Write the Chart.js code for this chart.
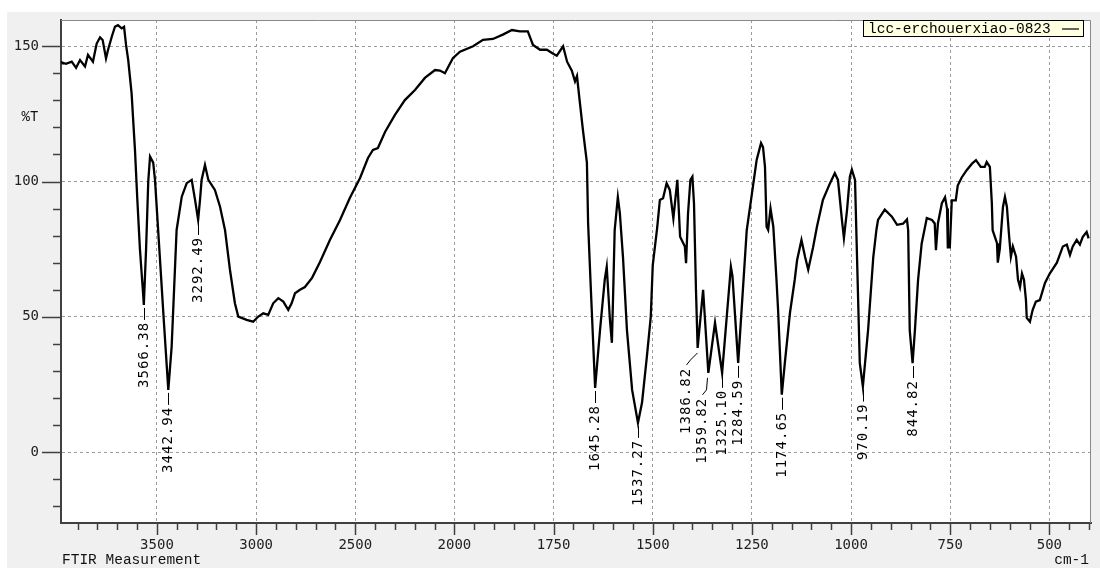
<!DOCTYPE html>
<html lang="en">
<head>
<meta charset="UTF-8">
<title>FTIR Measurement</title>
<script src="https://cdn.jsdelivr.net/npm/chart.js"></script>
<style>
    html, body { margin: 0; padding: 0; background: #fff; }
    canvas { display: block; }
</style>
</head>
<body>
<canvas id="ftirChart" width="1100" height="568"></canvas>
<script>
// Spectrum: wavenumber (cm-1) and %T
const waveNumbers = [
    3984, 3979, 3959, 3930, 3908, 3888, 3863, 3848, 3823, 3804, 3787, 3774, 3757, 3747, 3728, 3712,
    3697, 3678, 3666, 3656, 3645, 3628, 3611, 3599, 3586, 3569, 3566.38, 3555, 3544, 3535, 3519, 3510,
    3485, 3465, 3442.94, 3426, 3401, 3375, 3350, 3325, 3308, 3292.49, 3283, 3275, 3258, 3241, 3208, 3182,
    3157, 3132, 3107, 3090, 3048, 3015, 2989, 2964, 2939, 2914, 2888, 2863, 2838, 2821, 2804, 2779,
    2754, 2718, 2678, 2628, 2577, 2527, 2476, 2436, 2411, 2386, 2350, 2300, 2250, 2199, 2149, 2098,
    2073, 2048, 2008,
    1986, 1953, 1928, 1903, 1878, 1855, 1835, 1815, 1802, 1784, 1767, 1752, 1742, 1726, 1716, 1704,
    1696, 1691, 1684, 1676, 1666, 1663, 1656, 1645.28, 1633, 1621, 1616, 1608, 1603, 1600, 1596, 1588,
    1583, 1575, 1565, 1552, 1537.27, 1527, 1515, 1505, 1500, 1489, 1482, 1474, 1465, 1457, 1448, 1438,
    1431, 1419, 1416, 1411, 1405, 1400, 1396, 1391, 1386.82, 1373, 1359.82, 1343, 1325.10, 1303, 1299, 1284.59,
    1263, 1251, 1238, 1227, 1222, 1217, 1213, 1209, 1203, 1196, 1188, 1184, 1174.65, 1167, 1154, 1142,
    1136, 1125, 1116, 1108, 1096, 1086, 1071, 1053, 1041, 1033, 1023, 1018, 1010, 1003, 998, 990,
    986, 978, 970.19, 957, 944, 936, 932, 915, 897, 884, 869, 859, 856, 852, 844.82, 839,
    831, 822, 809, 796, 789, 786, 781, 771, 763, 758, 756, 751, 746, 736, 731, 721,
    708, 695, 685, 673, 663, 658, 650, 645, 643, 632, 630, 625, 617, 612, 607, 602,
    597, 592, 584, 579, 574, 569, 564, 559, 557, 549, 542, 534, 524, 511, 499, 481,
    466, 456, 448, 441, 431, 423, 416, 406, 401
];
const transmittance = [
    144.3, 144.0, 143.5, 144.3, 142.0, 144.9, 142.5, 146.8, 144.3, 151.0, 153.3, 152.3, 145.5, 148.6, 153.5, 157.2,
    157.8, 156.6, 157.2, 150.5, 144.9, 132.6, 111.7, 93.2, 75.0, 57.5, 54.4, 75.0, 100.0, 109.2, 107.0, 100.6,
    71.4, 48.0, 23.0, 39.0, 82.1, 94.4, 99.4, 100.6, 93.2, 85.8, 93.2, 100.6, 106.1, 100.6, 96.9, 90.7,
    82.1, 67.4, 55.0, 50.1, 48.9, 48.2, 50.1, 51.3, 50.7, 55.0, 56.9, 55.6, 52.6, 55.0, 58.7, 60.0,
    61.0, 64.4, 70.3, 78.4, 85.8, 94.0, 101.3, 108.7, 111.7, 112.4, 118.3, 124.6, 130.1, 133.8, 138.3, 141.2,
    141.0, 140.0, 145.6,
    148.0, 150.0, 152.4, 152.7, 154.3, 156.0, 155.5, 155.5, 150.5, 148.7, 148.7, 147.3, 146.5, 150.0, 144.3, 141.0,
    137.0, 139.0, 129.5, 119.0, 107.0, 84.7, 60.0, 23.7, 45.0, 63.7, 68.5, 49.0, 40.4, 57.4, 82.0, 94.2,
    88.4, 72.0, 45.0, 23.0, 10.8, 18.3, 35.0, 50.0, 69.0, 82.7, 93.2, 93.8, 99.4, 96.9, 86.4, 100.6,
    79.6, 76.0, 69.8, 88.3, 100.6, 101.8, 92.0, 60.0, 38.5, 60.0, 29.3, 47.8, 29.3, 68.5, 65.0, 33.0,
    82.0, 94.4, 108.0, 114.2, 112.7, 105.4, 83.3, 82.1, 90.0, 83.3, 63.7, 52.6, 21.2, 32.9, 51.5, 63.7,
    71.0, 78.4, 72.2, 67.4, 75.5, 83.3, 93.2, 99.4, 103.1, 100.6, 85.8, 79.1, 89.6, 101.8, 104.4, 100.6,
    78.0, 33.0, 24.2, 45.2, 72.0, 82.2, 85.8, 89.6, 87.0, 84.0, 84.4, 86.0, 82.0, 45.0, 32.9, 45.0,
    63.7, 77.0, 86.5, 85.8, 84.5, 74.6, 84.5, 92.0, 94.2, 90.0, 75.7, 75.7, 93.0, 93.0, 98.5, 101.5,
    104.3, 106.6, 107.9, 105.4, 105.4, 107.2, 105.4, 92.0, 82.0, 77.2, 70.0, 75.0, 90.6, 94.3, 90.6, 80.8,
    72.2, 76.0, 72.2, 63.7, 61.0, 66.0, 63.7, 56.2, 49.6, 48.2, 52.6, 55.6, 56.2, 62.5, 66.0, 70.0,
    76.0, 76.7, 72.9, 76.0, 78.4, 76.7, 79.5, 81.4, 79.0
];

// Labelled peaks
const peakWaves = [3566.38, 3442.94, 3292.49, 1645.28, 1537.27, 1386.82, 1359.82, 1325.10, 1284.59, 1174.65, 970.19, 844.82];
const peakLabels = ['3566.38', '3442.94', '3292.49', '1645.28', '1537.27', '1386.82', '1359.82', '1325.10', '1284.59', '1174.65', '970.19', '844.82'];

// Axis labels
const xTickWaves = [3500, 3000, 2500, 2000, 1750, 1500, 1250, 1000, 750, 500];
const yTickValues = [150, 100, 50, 0];
const seriesName = 'lcc-erchouerxiao-0823';

// labels that sit off to the side with a bent leader
const peakLabelOffsets = {
    '1386.82': { dx: -12, dy: 20 },
    '1359.82': { dx: -6, dy: 25 }
};

// the axis is compressed 2x above 2000 cm-1
function toAxis(w) { return w > 2000 ? 2000 + (w - 2000) / 2 : w; }
function fromAxis(u) { return u > 2000 ? 2 * u - 2000 : u; }

const spectrum = waveNumbers.map((w, i) => ({ x: toAxis(w), y: transmittance[i] }));

const numFont = { family: 'DejaVu Sans Mono', size: 14 };

const decor = {
    id: 'ftirDecor',
    beforeDraw(chart) {
        const { ctx, chartArea: a } = chart;
        ctx.save();
        ctx.fillStyle = '#ffffff';
        ctx.fillRect(0, 0, chart.width, chart.height);
        ctx.fillStyle = '#f0f0f0';
        ctx.fillRect(7, 12, chart.width - 7, chart.height - 12);
        ctx.fillStyle = '#ffffff';
        ctx.fillRect(a.left, a.top, a.right - a.left, a.bottom - a.top);
        ctx.restore();
    },
    afterDraw(chart) {
        const { ctx, chartArea: a, scales: { x, y } } = chart;
        ctx.save();

        // frame top / right
        ctx.strokeStyle = '#888';
        ctx.lineWidth = 1;
        ctx.beginPath();
        ctx.moveTo(a.left, a.top + 0.5);
        ctx.lineTo(a.right - 0.5, a.top + 0.5);
        ctx.lineTo(a.right - 0.5, a.bottom);
        ctx.stroke();

        // tick marks
        ctx.strokeStyle = '#404040';
        ctx.lineWidth = 1.5;
        ctx.beginPath();
        y.ticks.forEach(t => {
            const py = Math.round(y.getPixelForValue(t.value)) + 0.5;
            const len = t.value % 50 === 0 ? 19 : 8;
            ctx.moveTo(a.left - len, py);
            ctx.lineTo(a.left, py);
        });
        x.ticks.forEach(t => {
            const px = Math.round(x.getPixelForValue(t.value)) + 0.5;
            const len = t.value % 250 === 0 ? 12 : 7;
            ctx.moveTo(px, a.bottom);
            ctx.lineTo(px, a.bottom + len);
        });
        ctx.stroke();

        // axis captions
        ctx.fillStyle = '#111';
        ctx.textBaseline = 'middle';
        ctx.font = '14px "Liberation Mono"';
        ctx.textAlign = 'center';
        ctx.fillText('%T', 30, 117);
        ctx.font = '14.5px "Liberation Mono"';
        ctx.textAlign = 'left';
        ctx.fillText('FTIR Measurement', 62, 560);
        ctx.textAlign = 'right';
        ctx.fillText('cm-1', 1089, 560);

        // legend box
        ctx.fillStyle = '#ffffe1';
        ctx.fillRect(863.5, 20.5, 220, 16);
        ctx.strokeStyle = '#000';
        ctx.lineWidth = 1;
        ctx.strokeRect(863.5, 20.5, 220, 16);
        ctx.fillStyle = '#000';
        ctx.textAlign = 'left';
        ctx.fillText(seriesName, 868, 29);
        ctx.lineWidth = 1.2;
        ctx.beginPath();
        ctx.moveTo(1062, 29);
        ctx.lineTo(1079, 29);
        ctx.stroke();

        // peak labels
        ctx.font = '14px "DejaVu Sans Mono"';
        ctx.letterSpacing = '1px';
        ctx.lineWidth = 1;
        ctx.strokeStyle = '#000';
        peakWaves.forEach((w, i) => {
            const idx = waveNumbers.indexOf(w);
            const px = Math.round(x.getPixelForValue(toAxis(w))) + 0.5;
            const py = y.getPixelForValue(transmittance[idx]);
            const off = peakLabelOffsets[peakLabels[i]];
            let tx = px, ty = py + 17;
            ctx.beginPath();
            if (off) {
                tx = px + off.dx;
                ty = py + off.dy;
                ctx.moveTo(px - 1, py + 5);
                ctx.lineTo(tx + 4, ty - 8);
                ctx.lineTo(tx, ty - 3);
            } else {
                ctx.moveTo(px, py + 3);
                ctx.lineTo(px, py + 15);
            }
            ctx.stroke();
            ctx.save();
            ctx.translate(tx, ty);
            ctx.rotate(-Math.PI / 2);
            ctx.textAlign = 'right';
            ctx.textBaseline = 'middle';
            ctx.fillText(peakLabels[i], 0, 0);
            ctx.restore();
        });
        ctx.restore();
    }
};

new Chart(document.getElementById('ftirChart'), {
    type: 'line',
    data: {
        datasets: [{
            label: seriesName,
            data: spectrum,
            borderColor: '#000',
            borderWidth: 2.3,
            pointRadius: 0,
            tension: 0,
            fill: false
        }]
    },
    options: {
        responsive: false,
        animation: false,
        layout: { padding: { left: 7, top: 20, right: 9, bottom: 0 } },
        plugins: { legend: { display: false }, tooltip: { enabled: false } },
        scales: {
            x: {
                type: 'linear',
                reverse: true,
                min: 395,
                max: 2992,
                afterBuildTicks(scale) {
                    const t = [];
                    for (let u = 400; u <= 2950; u += 50) t.push({ value: u });
                    scale.ticks = t;
                },
                afterFit(scale) {
                    scale.height = 45;
                    scale.paddingLeft = 0;
                    scale.paddingRight = 0;
                },
                grid: {
                    drawTicks: false,
                    lineWidth: 1,
                    color: c => (c.tick && c.tick.value % 250 === 0) ? '#9a9a9a' : 'rgba(0,0,0,0)'
                },
                border: { display: true, color: '#404040', width: 2, dash: [3, 3] },
                ticks: {
                    autoSkip: false,
                    maxRotation: 0,
                    padding: 14,
                    color: '#222',
                    font: numFont,
                    callback: v => xTickWaves.includes(fromAxis(v)) ? String(fromAxis(v)) : ''
                }
            },
            y: {
                min: -26.2,
                max: 159.7,
                afterBuildTicks(scale) {
                    const t = [];
                    for (let v = -20; v <= 150; v += 10) t.push({ value: v });
                    scale.ticks = t;
                },
                afterFit(scale) {
                    scale.width = 54;
                    scale.paddingTop = 0;
                    scale.paddingBottom = 0;
                },
                grid: {
                    drawTicks: false,
                    lineWidth: 1,
                    color: c => (c.tick && yTickValues.includes(c.tick.value)) ? '#9a9a9a' : 'rgba(0,0,0,0)'
                },
                border: { display: true, color: '#404040', width: 2, dash: [3, 3] },
                ticks: {
                    autoSkip: false,
                    padding: 22,
                    color: '#222',
                    font: numFont,
                    callback: v => yTickValues.includes(v) ? String(v) : ''
                }
            }
        }
    },
    plugins: [decor]
});
</script>
</body>
</html>
